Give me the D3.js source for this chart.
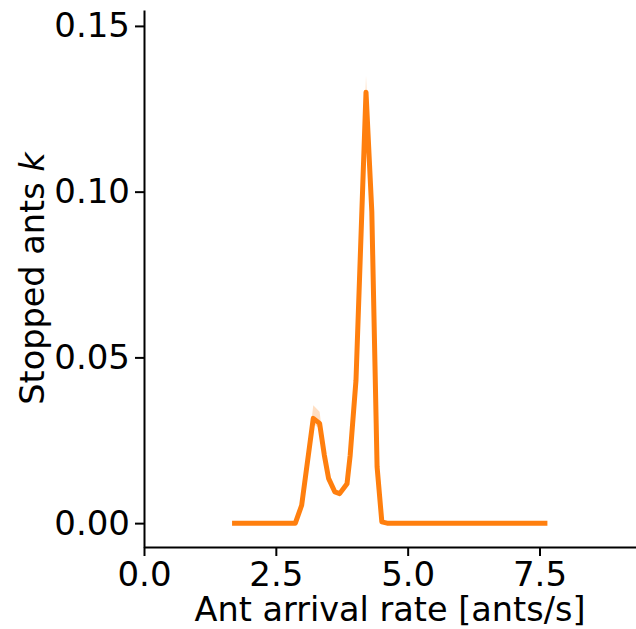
<!DOCTYPE html>
<html>
<head>
<meta charset="utf-8">
<script src="https://cdn.jsdelivr.net/npm/d3@7"></script>
<style>
  body { margin: 0; background: #fff; }
  svg text { font-family: "DejaVu Sans", sans-serif; fill: #000; }
</style>
</head>
<body>
<div id="chart"></div>
<script>
// arrival rate [ants/s] and mean stopped ants k
const rate   = [1.67, 2.87, 2.99, 3.21, 3.33, 3.42, 3.50, 3.62, 3.71, 3.85, 3.91, 4.02, 4.21, 4.32, 4.42, 4.51, 4.61, 7.65];
const kMean  = [0, 0, 0.0054, 0.0316, 0.0301, 0.0205, 0.0135, 0.0094, 0.0089, 0.0119, 0.0205, 0.0431, 0.130, 0.094, 0.0170, 0.0004, 0, 0];
const kLow   = [0, 0, 0.0050, 0.0300, 0.0285, 0.0195, 0.0128, 0.0090, 0.0086, 0.0115, 0.0198, 0.0420, 0.127, 0.091, 0.0160, 0.0002, 0, 0];
const kHigh  = [0, 0, 0.0060, 0.0356, 0.0336, 0.0222, 0.0145, 0.0100, 0.0093, 0.0125, 0.0213, 0.0445, 0.135, 0.097, 0.0180, 0.0006, 0, 0];
const xTicks = [0, 2.5, 5, 7.5];
const yTicks = [0, 0.05, 0.10, 0.15];

const width = 636, height = 629;
const margin = { top: 10, right: 0, bottom: 82, left: 144 };
const innerWidth = width - margin.left - margin.right;
const innerHeight = height - margin.top - margin.bottom;

const svg = d3.select("#chart").append("svg")
  .attr("width", width)
  .attr("height", height);

const g = svg.append("g")
  .attr("transform", `translate(${margin.left},${margin.top})`);

const x = d3.scaleLinear().domain([0, 9.33]).range([0, innerWidth]);
const y = d3.scaleLinear().domain([-0.0072, 0.1548]).range([innerHeight, 0]);

const pts = rate.map((r, i) => ({ r, m: kMean[i], lo: kLow[i], hi: kHigh[i] }));

// shaded band
g.append("path")
  .datum(pts)
  .attr("fill", "#ff7f0e")
  .attr("fill-opacity", 0.25)
  .attr("d", d3.area().x(d => x(d.r)).y0(d => y(d.lo)).y1(d => y(d.hi)));

// mean line
g.append("path")
  .datum(pts)
  .attr("fill", "none")
  .attr("stroke", "#ff7f0e")
  .attr("stroke-width", 5)
  .attr("stroke-linejoin", "round")
  .attr("d", d3.line().x(d => x(d.r)).y(d => y(d.m)));

// axes
const xAxis = d3.axisBottom(x).tickValues(xTicks).tickFormat(d3.format(".1f"))
  .tickSize(9).tickSizeOuter(0).tickPadding(6);
const yAxis = d3.axisLeft(y).tickValues(yTicks).tickFormat(d3.format(".2f"))
  .tickSize(9).tickSizeOuter(0).tickPadding(5);

const xg = g.append("g").attr("transform", `translate(0,${innerHeight})`).call(xAxis);
const yg = g.append("g").call(yAxis);

[xg, yg].forEach(a => {
  a.select(".domain").attr("stroke", "#000").attr("stroke-width", 2);
  a.selectAll(".tick line").attr("stroke", "#000").attr("stroke-width", 2);
  a.selectAll(".tick text").style("font-size", "34px").attr("fill", "#000");
});

// axis labels, centred on the axes
svg.append("text")
  .attr("x", margin.left + innerWidth / 2)
  .attr("y", 621)
  .attr("text-anchor", "middle")
  .style("font-size", "33.5px")
  .text("Ant arrival rate [ants/s]");

const yl = svg.append("text")
  .attr("transform", `translate(44,${margin.top + innerHeight / 2}) rotate(-90)`)
  .attr("text-anchor", "middle")
  .style("font-size", "33.5px");
yl.append("tspan").text("Stopped ants ");
yl.append("tspan").style("font-style", "italic").text("k");
</script>
</body>
</html>
